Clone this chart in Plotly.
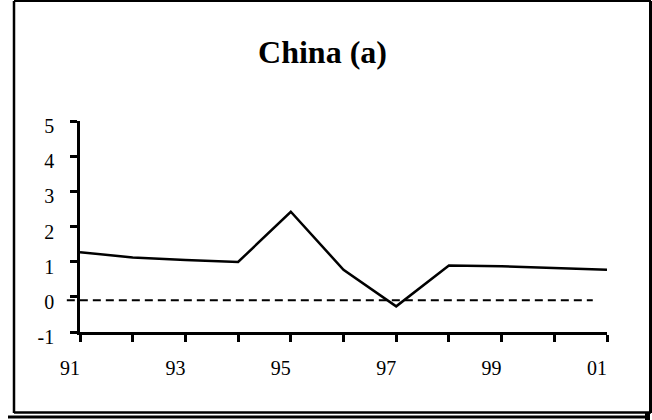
import plotly.graph_objects as go

# ---- data ----
years = [91, 92, 93, 94, 95, 96, 97, 98, 99, 100, 101]
values = [1.27, 1.12, 1.05, 0.99, 2.42, 0.77, -0.27, 0.89, 0.87, 0.81, 0.77]
year_labels = ["91", "", "93", "", "95", "", "97", "", "99", "", "01"]
ref_x = [90.75, 100.73]
ref_y = [-0.1, -0.1]
y_ticks = [-1, 0, 1, 2, 3, 4, 5]
y_labels = ["-1", "0", "1", "2", "3", "4", "5"]
title_text = "<b>China (a)</b>"

# ---- layout geometry ----
W, H = 652, 420
ML, MR, MT, MB = 60, 45, 121, 88
PW, PH = W - ML - MR, H - MT - MB
FONT = "Liberation Serif"


def px_x(px):
    return (px - ML) / PW


def px_y(py):
    return (H - MB - py) / PH


x_lo = px_x(80)
fig = go.Figure()
fig.add_trace(go.Scatter(x=years, y=values, mode="lines",
                         line=dict(color="black", width=2.5),
                         xaxis="x", yaxis="y", showlegend=False, hoverinfo="skip"))
# reference dashed line on an overlapping, wider subplot so it can pass the y axis
span_px = PW * (1 - x_lo)
per_year = span_px / (years[-1] - years[0])
x2_lo = px_x(64)
x2_start = years[0] - (80 - 64) / per_year
fig.add_trace(go.Scatter(x=ref_x, y=ref_y, mode="lines",
                         line=dict(color="black", width=2, dash="8px,5px"),
                         xaxis="x2", yaxis="y2", showlegend=False, hoverinfo="skip"))

axis_common = dict(showgrid=False, zeroline=False, showline=True, linecolor="black",
                   linewidth=2.5, ticks="outside", tickcolor="black", tickwidth=2.5,
                   ticklen=7, tickfont=dict(family=FONT, size=20, color="black"))

fig.update_layout(
    width=W, height=H,
    font=dict(family=FONT, color="black"),
    margin=dict(l=ML, r=MR, t=MT, b=MB),
    paper_bgcolor="white", plot_bgcolor="rgba(0,0,0,0)",
    xaxis=dict(domain=[x_lo, 1], range=[years[0], years[-1]], tickmode="array",
               tickvals=years, ticktext=year_labels, anchor="y",
               ticklabelshift=-10, ticklabelstandoff=9, **axis_common),
    yaxis=dict(domain=[0, 1], range=[-1, 5], tickmode="array", tickvals=y_ticks,
               ticktext=y_labels, anchor="x", ticklabelshift=5, ticklabelstandoff=12,
               **axis_common),
    xaxis2=dict(domain=[x2_lo, 1], range=[x2_start, years[-1]], visible=False, anchor="y2"),
    yaxis2=dict(domain=[0, 1], range=[-1, 5], visible=False, anchor="x2"),
    title=dict(text=title_text, x=322.5 / W, xref="container", xanchor="center",
               y=1 - 52 / H, yref="container", yanchor="middle",
               font=dict(family=FONT, size=32, color="black")),
    showlegend=False,
)

# outer frame with shadow
frame = [
    (14, 1, 651, 1, 2),      # top
    (14, 1, 14, 413, 2.5),   # left
    (650.5, 1, 650.5, 413, 3),  # right
    (14, 412.5, 651, 412.5, 2.5),  # bottom
    (8, 417, 646, 417, 3),   # shadow bottom
    (647.5, 413, 647.5, 420, 5),  # shadow corner
]
for x0, y0, x1, y1, w in frame:
    fig.add_shape(type="line", xref="paper", yref="paper",
                  x0=px_x(x0), y0=px_y(y0), x1=px_x(x1), y1=px_y(y1),
                  line=dict(color="black", width=w))

fig.write_html("out.html", config={"displayModeBar": False},
               post_script="document.body.style.margin='0';document.body.style.overflow='hidden';")
